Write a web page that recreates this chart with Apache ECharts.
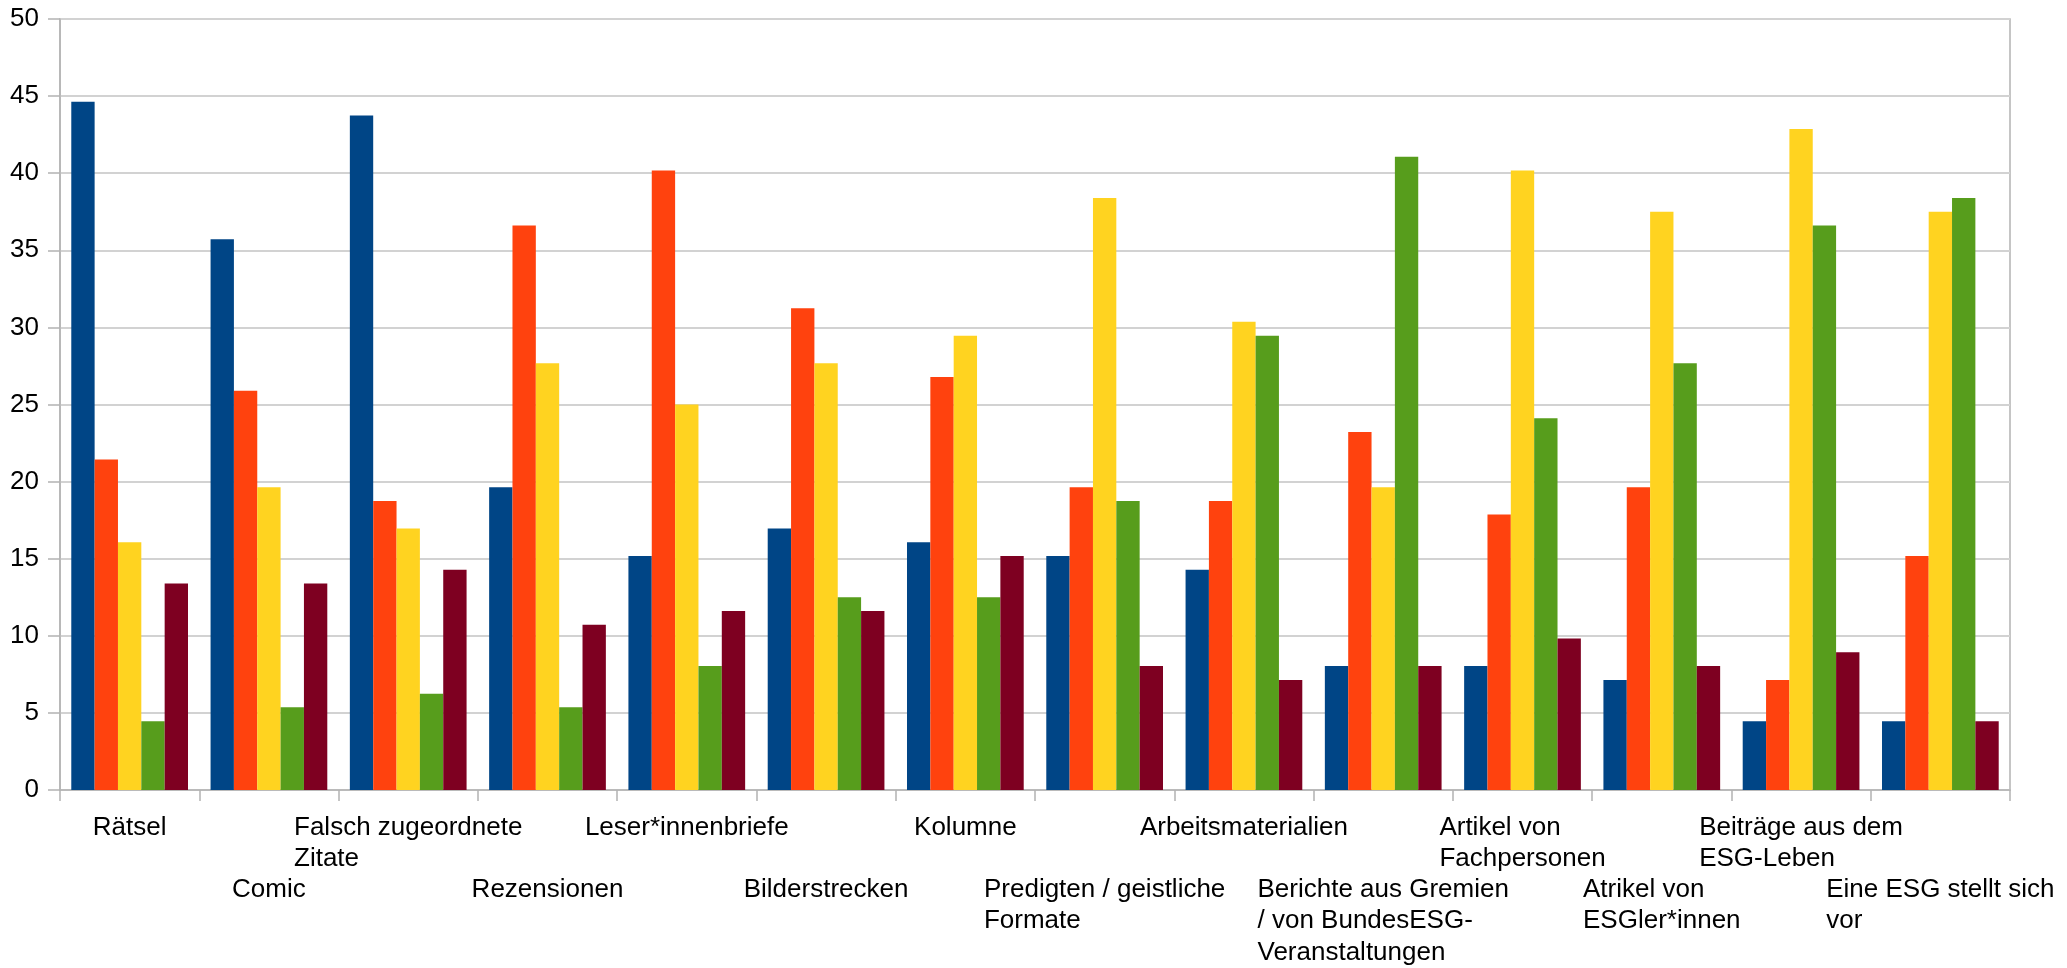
<!DOCTYPE html>
<html>
<head>
<meta charset="utf-8">
<script src="https://cdn.jsdelivr.net/npm/echarts@6/dist/echarts.min.js"></script>
<style>
html,body{margin:0;padding:0;background:#fff;}
#chart{width:2067px;height:968px;}
</style>
</head>
<body>
<div id="chart"></div>
<script>
// Category labels (line breaks as in the original)
const categories = [
  ["Rätsel"],
  ["Comic"],
  ["Falsch zugeordnete", "Zitate"],
  ["Rezensionen"],
  ["Leser*innenbriefe"],
  ["Bilderstrecken"],
  ["Kolumne"],
  ["Predigten / geistliche", "Formate"],
  ["Arbeitsmaterialien"],
  ["Berichte aus Gremien", "/ von BundesESG-", "Veranstaltungen"],
  ["Artikel von", "Fachpersonen"],
  ["Atrikel von", "ESGler*innen"],
  ["Beiträge aus dem", "ESG-Leben"],
  ["Eine ESG stellt sich", "vor"]
];

const series1 = [44.64, 35.71, 43.75, 19.64, 15.18, 16.96, 16.07, 15.18, 14.29, 8.04, 8.04, 7.14, 4.46, 4.46];
const series2 = [21.43, 25.89, 18.75, 36.61, 40.18, 31.25, 26.79, 19.64, 18.75, 23.21, 17.86, 19.64, 7.14, 15.18];
const series3 = [16.07, 19.64, 16.96, 27.68, 25.00, 27.68, 29.46, 38.39, 30.36, 19.64, 40.18, 37.50, 42.86, 37.50];
const series4 = [4.46, 5.36, 6.25, 5.36, 8.04, 12.50, 12.50, 18.75, 29.46, 41.07, 24.11, 27.68, 36.61, 38.39];
const series5 = [13.39, 13.39, 14.29, 10.71, 11.61, 11.61, 15.18, 8.04, 7.14, 8.04, 9.82, 8.04, 8.93, 4.46];

const seriesNames = ["Reihe 1", "Reihe 2", "Reihe 3", "Reihe 4", "Reihe 5"];
const yTicks = { min: 0, max: 50, interval: 5 };

const colors = ["#004586", "#ff420e", "#ffd320", "#579d1c", "#7e0021"];
const catKeys = categories.map(c => c.join(" "));

const chart = echarts.init(document.getElementById('chart'), null, { renderer: 'canvas' });
const font = "'Liberation Sans', Arial, sans-serif";

const option = {
  animation: false,
  backgroundColor: '#ffffff',
  color: colors,
  grid: {
    left: 60, right: 57, top: 19, bottom: 178,
    show: true, borderColor: '#b3b3b3', borderWidth: 1.5, backgroundColor: 'transparent'
  },
  xAxis: {
    type: 'category',
    data: catKeys,
    axisLine: { show: true, lineStyle: { color: '#b3b3b3', width: 1.5 } },
    axisTick: { show: true, length: 11, alignWithLabel: false, lineStyle: { color: '#b3b3b3', width: 1.5 } },
    splitLine: { show: false },
    axisLabel: {
      interval: 0,
      margin: 22,
      hideOverlap: false,
      color: '#000',
      fontFamily: font,
      fontSize: 26,
      lineHeight: 31.2,
      formatter: function (value, idx) {
        const lines = categories[idx].slice();
        const pre = (idx % 2 === 1) ? ['{a|\u00a0}', '{a|\u00a0}'] : [];
        return pre.concat(lines.map(l => '{a|' + l + '}')).join('\n');
      },
      rich: {
        a: { align: 'left', fontFamily: font, fontSize: 26, lineHeight: 31.2, color: '#000' }
      }
    }
  },
  yAxis: {
    type: 'value',
    min: yTicks.min, max: yTicks.max, interval: yTicks.interval,
    axisLine: { show: true, lineStyle: { color: '#b3b3b3', width: 1.5 } },
    axisTick: { show: true, length: 12, lineStyle: { color: '#b3b3b3', width: 1.5 } },
    splitLine: { show: true, lineStyle: { color: '#d2d2d2', width: 2 } },
    axisLabel: { margin: 21, color: '#000', fontFamily: font, fontSize: 26 }
  },
  series: [series1, series2, series3, series4, series5].map((d, i) => ({
    name: seriesNames[i],
    type: 'bar',
    data: d,
    barGap: '0%',
    barCategoryGap: '16.2%',
    itemStyle: { color: colors[i] }
  }))
};
chart.setOption(option);
</script>
</body>
</html>
